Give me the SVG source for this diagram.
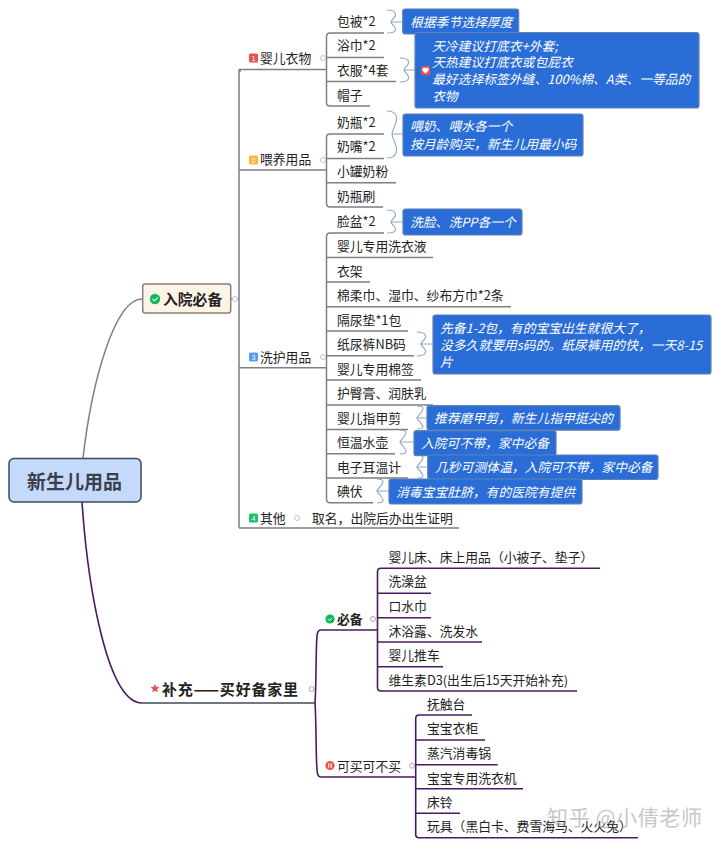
<svg xmlns="http://www.w3.org/2000/svg" width="720" height="847" viewBox="0 0 720 847">
<style>
text{font-family:"Noto Sans CJK SC","Noto Sans",sans-serif;font-size:12.8px;fill:#222}
.g{fill:none;stroke:#7f7f7f;stroke-width:1.5}
.p{fill:none;stroke:#4a1a5e;stroke-width:1.6}
.b{fill:none;stroke:#8fa6c6;stroke-width:1.1}
.n{fill:#2a6dd6;stroke:#5f82b4;stroke-width:1.2}
.nt{fill:#fff;font-style:italic}
.d{fill:#fff;stroke:#c4c4c4;stroke-width:1}
.dp{fill:#fff;stroke:#b79cc6;stroke-width:1}
.bt{fill:#fff;font-size:6.5px;font-family:"Liberation Sans",sans-serif;text-anchor:middle}
.s{font-weight:700}
</style>
<g id="connectors">
<path class="g" d="M83 458C92 380 115 299 142 299"/>
<path class="p" d="M82 502C88 590 108 703 142 703"/>
<path d="M142 703H315" fill="none" stroke="#3f4d5c" stroke-width="1.5"/>
<path class="g" d="M231 299H239M241 71Q239 71 239 69.5V528M239 69.5H240M240 69.5H326.5M239 170H326.5M239 367.7H326.5M239 528H459"/>
<path class="g" d="M384 33H330Q326.5 33 326.5 36.5V102.5Q326.5 106 330 106H370M326.5 57.5H384M326.5 81.5H396"/>
<path class="g" d="M384 134H330Q326.5 134 326.5 137.5V203.5Q326.5 207 330 207H383M326.5 158.5H384M326.5 182.7H396"/>
<path class="g" d="M384 233H330Q326.5 233 326.5 236.5V499Q326.5 502.7 330 502.7H373M326.5 257.5H433M326.5 282H370M326.5 306.7H511M326.5 331H408M326.5 355.7H414M326.5 380H421M326.5 405H433M326.5 429.5H408M326.5 453.7H395M326.5 478H408"/>
<path class="p" d="M315 703C316 690 316 660 316.5 645C317 634 317 630 321 630H377.5M315 703C316 716 316 745 316.5 760C317 773 317 777 321 777H415.7"/>
<path class="p" d="M600 568.3H381Q377.5 568.3 377.5 571.8V687.5Q377.5 691 381 691H577M377.5 593.3H431M377.5 617.7H431M377.5 642H482M377.5 666.7H443"/>
<path class="p" d="M472 715H419Q415.7 715 415.7 718.5V834.2Q415.7 837.7 419 837.7H638M415.7 740H485M415.7 764.7H497.7M415.7 788.7H523M415.7 813.3H460"/>
<path class="b" d="M387 10C396 10 397 14 394 18C392 20 391 21 391 22C391 23 392 24 394 26C397 30 396 33 387 33M391 22H403"/>
<path class="b" d="M400 58C409 58 410 62 407 66C405 68 404 69 404 70C404 71 405 72 407 74C410 78 409 82 400 82M404 70H415"/>
<path class="b" d="M387 111C397 111 398 118 395 125C393 130 392 133 392 134C392 135 393 138 395 143C398 150 397 158 387 158M392 134H403"/>
<path class="b" d="M387 210C396 210 397 214 394 218C392 220 391 221 391 222C391 223 392 224 394 226C397 230 396 233 387 233M391 222H403"/>
<path class="b" d="M417 332C426 332 427 336 424 340C422 342 421 343 421 344C421 345 422 346 424 348C427 352 426 356 417 356M421 344H433"/>
<path class="b" d="M417 406C426 406 423 410 420 414C418 416 417 417 417 418C417 419 418 420 420 422C423 426 426 429 417 429M417 418H427"/>
<path class="b" d="M400 430C409 430 406 434 403 438C401 440 400 441 400 442C400 443 401 444 403 446C406 450 409 454 400 454M400 442H414"/>
<path class="b" d="M417 455C426 455 423 459 420 463C418 465 417 466 417 467C417 468 418 469 420 471C423 475 426 478 417 478M417 467H427"/>
<path class="b" d="M377 479C386 479 383 483 380 487C378 489 377 490 377 491C377 492 378 493 380 495C383 499 386 503 377 503M377 491H389"/>
</g>
<g id="root"><rect x="9" y="458.5" width="132" height="43.5" rx="5" fill="#c5dafb" stroke="#3d4a66" stroke-width="1.5"/><text x="74.5" y="488.5" text-anchor="middle" class="s" style="font-size:19px;fill:#3a3f4a">新生儿用品</text></g>
<g id="n-ruyuan"><rect x="142.7" y="284" width="88" height="29" rx="2.5" fill="#fdf3e7" stroke="#8a8076" stroke-width="1.5"/><circle cx="155" cy="299" r="5.2" fill="#14b85c"/><path d="M152.6 299l1.8 1.8 3.2-3.2" fill="none" stroke="#fff" stroke-width="1.1"/><text x="163" y="304.5" class="s" style="font-size:14.8px">入院必备</text><circle class="d" cx="235" cy="299" r="2.5"/></g>
<g id="n-yier"><rect x="249" y="53.5" width="9" height="9" rx="1.5" fill="#e5524f"/><text class="bt" x="253.5" y="60.5">1</text><text x="260" y="62.6">婴儿衣物</text><circle class="d" cx="323" cy="58" r="2.5"/></g>
<g id="n-weiyang"><rect x="249" y="155.5" width="9" height="9" rx="1.5" fill="#f4b93a"/><text class="bt" x="253.5" y="162.5">2</text><text x="260" y="163.8">喂养用品</text><circle class="d" cx="323" cy="160" r="2.5"/></g>
<g id="n-xihu"><rect x="249" y="352.5" width="9" height="9" rx="1.5" fill="#5b9bef"/><text class="bt" x="253.5" y="359.5">3</text><text x="260" y="361.5">洗护用品</text><circle class="d" cx="323" cy="357" r="2.5"/></g>
<g id="n-qita"><rect x="249" y="513.5" width="9" height="9" rx="1.5" fill="#22c16b"/><text class="bt" x="253.5" y="520.5">4</text><text x="260" y="522.5">其他</text><circle class="d" cx="297" cy="518" r="2.5"/><text x="312" y="522.5">取名，出院后办出生证明</text></g>
<g id="items-yier" transform="translate(0,-0.8)"><text x="337" y="27">包被*2</text><text x="337" y="51">浴巾*2</text><text x="337" y="76">衣服*4套</text><text x="337" y="101">帽子</text></g>
<g id="items-weiyang" transform="translate(0,-0.8)"><text x="337" y="128">奶瓶*2</text><text x="337" y="152">奶嘴*2</text><text x="337" y="177">小罐奶粉</text><text x="337" y="202">奶瓶刷</text></g>
<g id="items-xihu" transform="translate(0,-0.8)"><text x="337" y="227">脸盆*2</text><text x="337" y="252">婴儿专用洗衣液</text><text x="337" y="276.5">衣架</text><text x="337" y="301">棉柔巾、湿巾、纱布方巾*2条</text><text x="337" y="325.5">隔尿垫*1包</text><text x="337" y="350">纸尿裤NB码</text><text x="337" y="374.5">婴儿专用棉签</text><text x="337" y="399">护臀膏、润肤乳</text><text x="337" y="423.5">婴儿指甲剪</text><text x="337" y="448">恒温水壶</text><text x="337" y="472.5">电子耳温计</text><text x="337" y="497">碘伏</text></g>
<g id="note1"><rect class="n" x="402.7" y="9" width="116" height="25" rx="2.5"/><text class="nt" x="410" y="26.6">根据季节选择厚度</text></g>
<g id="note2"><rect class="n" x="415" y="32.5" width="284" height="75.5" rx="2.5"/><rect x="421" y="66" width="9" height="9" rx="1.5" fill="#e5524f"/><path d="M425.5 73.5l-3-3a1.7 1.7 0 0 1 3-2 1.7 1.7 0 0 1 3 2z" fill="#fff"/><text class="nt" x="432" y="50.6">天冷建议打底衣+外套;</text><text class="nt" x="432" y="66.8">天热建议打底衣或包屁衣</text><text class="nt" x="432" y="83.6">最好选择标签外缝、100%棉、A类、一等品的</text><text class="nt" x="432" y="100.6">衣物</text></g>
<g id="note3"><rect class="n" x="403" y="114" width="180" height="42" rx="2.5"/><text class="nt" x="410" y="130.6">喂奶、喂水各一个</text><text class="nt" x="410" y="148.6">按月龄购买，新生儿用最小码</text></g>
<g id="note4"><rect class="n" x="403" y="209" width="119" height="26" rx="2.5"/><text class="nt" x="410" y="226.6">洗脸、洗PP各一个</text></g>
<g id="note5"><rect class="n" x="433" y="315" width="278" height="59" rx="2.5"/><text class="nt" x="440" y="332.6">先备1-2包，有的宝宝出生就很大了，</text><text class="nt" x="440" y="349.6">没多久就要用s码的。纸尿裤用的快，一天8-15</text><text class="nt" x="440" y="366.6">片</text></g>
<g id="note6"><rect class="n" x="427" y="405.7" width="193" height="24.5" rx="2.5"/><text class="nt" x="434" y="423">推荐磨甲剪，新生儿指甲挺尖的</text></g>
<g id="note7"><rect class="n" x="414" y="430.7" width="142" height="25" rx="2.5"/><text class="nt" x="421" y="447.6">入院可不带，家中必备</text></g>
<g id="note8"><rect class="n" x="427.7" y="455" width="230.3" height="24.5" rx="2.5"/><text class="nt" x="435" y="471.6">几秒可测体温，入院可不带，家中必备</text></g>
<g id="note9"><rect class="n" x="389" y="479" width="193" height="25" rx="2.5"/><text class="nt" x="396" y="496.6">消毒宝宝肚脐，有的医院有提供</text></g>
<g id="n-buchong"><path d="M155 684l1.3 2.8 3.1.4-2.3 2.1.6 3-2.7-1.5-2.7 1.5.6-3-2.3-2.1 3.1-.4z" fill="#e5524f"/><text x="162" y="694.5" class="s" style="font-size:15px" textLength="136">补充——买好备家里</text><circle class="dp" cx="311.5" cy="689" r="2.5"/></g>
<g id="n-bibei"><circle cx="330" cy="619" r="4.6" fill="#14b85c"/><path d="M327.8 619l1.6 1.6 2.8-2.8" fill="none" stroke="#fff" stroke-width="1"/><text x="337" y="623.8" class="s">必备</text><circle class="dp" cx="373" cy="619" r="2.5"/></g>
<g id="n-kemai"><circle cx="330" cy="765.5" r="4.6" fill="#e5524f"/><path d="M328.8 763.3v4.4M331.2 763.3v4.4" stroke="#fff" stroke-width="1.1"/><text x="337" y="770.5">可买可不买</text><circle class="dp" cx="412" cy="765.7" r="2.5"/></g>
<g id="items-bibei" transform="translate(0,-0.8)"><text x="388.5" y="563">婴儿床、床上用品（小被子、垫子）</text><text x="388.5" y="587">洗澡盆</text><text x="388.5" y="612">口水巾</text><text x="388.5" y="636.5">沐浴露、洗发水</text><text x="388.5" y="661">婴儿推车</text><text x="388.5" y="685.5">维生素D3(出生后15天开始补充)</text></g>
<g id="items-kemai" transform="translate(0,-0.8)"><text x="427" y="710">抚触台</text><text x="427" y="734">宝宝衣柜</text><text x="427" y="759">蒸汽消毒锅</text><text x="427" y="783.5">宝宝专用洗衣机</text><text x="427" y="808">床铃</text><text x="427" y="832">玩具（黑白卡、费雪海马、火火兔）</text></g>
<text id="watermark" x="547" y="825" style="font-size:21px;fill:#9a9a9a" opacity="0.55" textLength="155">知乎 @小倩老师</text>
</svg>
